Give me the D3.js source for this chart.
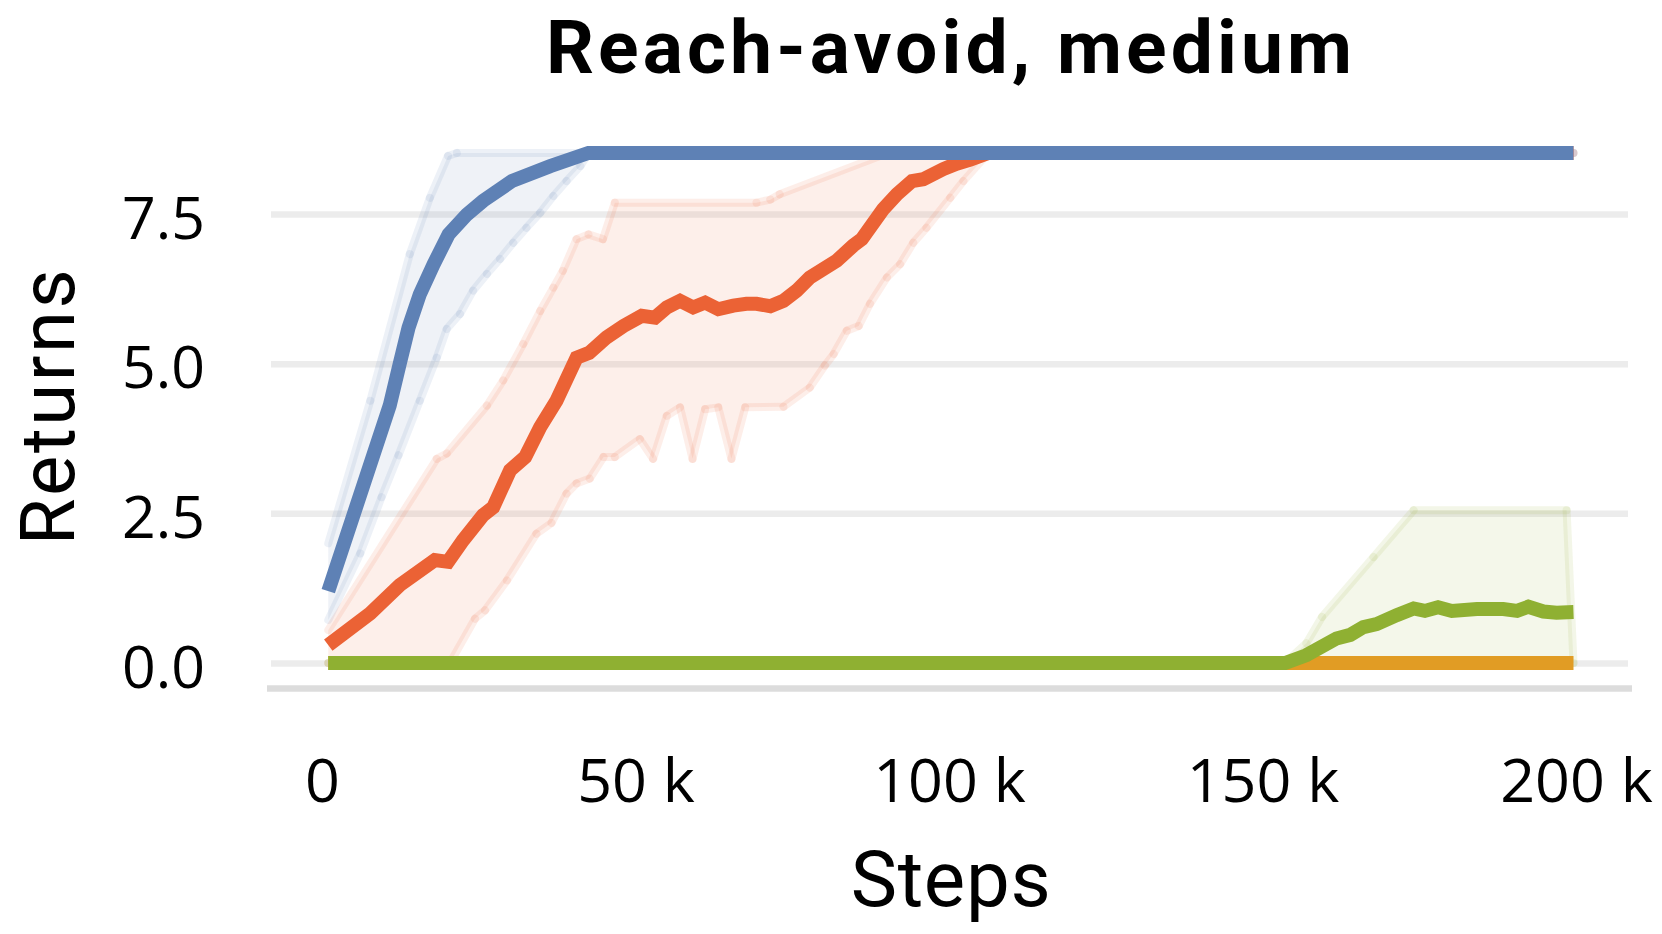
<!DOCTYPE html>
<html>
<head>
<meta charset="utf-8">
<script src="https://cdn.jsdelivr.net/npm/d3@7"></script>
<style>
  body { margin: 0; background: #fff; }
  text { font-family: "Open Sans", "Noto Sans", sans-serif; fill: #000; }
  .title { font-family: Roboto, "Open Sans", sans-serif; }
</style>
</head>
<body>
<svg id="chart" width="1662" height="934"></svg>
<script>
// values: [step, return]
var blueMean = [[1000,1.2],[10800,4.3],[12400,5.0],[13800,5.6],[15600,6.16],[17800,6.66],[20200,7.16],[23100,7.49],[25700,7.72],[30300,8.05],[36400,8.3],[42500,8.52],[199600,8.52]];
var blueUpper = [[1000,2.0],[7700,4.38],[14000,6.83],[17200,7.77],[20100,8.47],[21500,8.52],[199600,8.52]];
var blueLower = [[1000,0.72],[6100,1.83],[9500,2.77],[12200,3.47],[15600,4.38],[18300,5.1],[19900,5.58],[22000,5.83],[24100,6.22],[26300,6.5],[28400,6.75],[30500,7.02],[32600,7.27],[34800,7.52],[36900,7.8],[39000,8.05],[41200,8.3],[42500,8.52],[199600,8.52]];

var redMean = [[1000,0.3],[7700,0.83],[12400,1.3],[18000,1.72],[20100,1.69],[22500,2.05],[25700,2.47],[27300,2.6],[30000,3.22],[32400,3.44],[34800,3.94],[37400,4.38],[40600,5.1],[42600,5.18],[45400,5.44],[48100,5.63],[51000,5.8],[53100,5.77],[55000,5.94],[57100,6.05],[59200,5.94],[61100,6.02],[63200,5.91],[65600,5.97],[67700,6.0],[69300,6.0],[71500,5.96],[73600,6.05],[75700,6.22],[77800,6.44],[82100,6.72],[84700,6.97],[86100,7.08],[89500,7.58],[91700,7.83],[94100,8.05],[95900,8.08],[99100,8.25],[101200,8.34],[103400,8.41],[106300,8.52],[199600,8.52]];
var redUpper = [[1000,0.55],[18300,3.41],[19900,3.5],[26300,4.3],[28900,4.72],[32100,5.33],[34800,5.88],[36900,6.27],[38400,6.55],[40600,7.08],[42500,7.16],[44800,7.08],[46700,7.69],[69300,7.69],[71500,7.74],[73000,7.83],[89500,8.49],[91000,8.52],[199600,8.52]];
var redLower = [[1000,0],[20400,0],[24400,0.74],[26000,0.88],[29500,1.38],[34200,2.16],[36600,2.34],[39000,2.83],[40600,3.0],[42700,3.08],[44900,3.44],[46700,3.44],[50700,3.74],[52800,3.41],[55000,4.13],[57100,4.27],[59100,3.41],[61100,4.24],[63200,4.27],[65300,3.41],[67500,4.27],[73600,4.28],[77800,4.6],[80200,4.97],[81600,5.16],[83700,5.55],[85600,5.63],[87400,6.0],[90100,6.44],[92200,6.66],[94300,7.02],[96400,7.27],[100200,7.77],[102300,8.05],[106300,8.52],[199600,8.52]];

var yellowMean = [[1000,0],[199600,0]];

var greenMean = [[1000,0],[153600,0],[157000,0.13],[161800,0.41],[164000,0.47],[166100,0.6],[168200,0.65],[171400,0.8],[174100,0.91],[175900,0.87],[178000,0.93],[180200,0.87],[184200,0.9],[188400,0.9],[190600,0.87],[192400,0.94],[194800,0.86],[196900,0.84],[199600,0.85]];
var greenUpper = [[1000,0],[153600,0],[157000,0.33],[159500,0.77],[167700,1.77],[174100,2.55],[198500,2.55],[199600,0]];
var greenLower = [[1000,0],[199600,0]];

var yTicks = [0, 2.5, 5, 7.5];
var xTicks = [0, 50000, 100000, 150000, 200000];
var xTickLabels = ["0", "50 k", "100 k", "150 k", "200 k"];

var colors = {blue: "#5E81B5", yellow: "#E19C24", green: "#8FB032", red: "#EB6235"};

var svg = d3.select("#chart");

var x = d3.scaleLinear().domain([0, 200000]).range([322, 1576]),
    y = d3.scaleLinear().domain([0, 7.5]).range([663, 214]);

var line = d3.line()
    .x(function(d) { return x(d[0]); })
    .y(function(d) { return y(d[1]); });

// horizontal grid + y labels
var gy = svg.append("g")
    .attr("transform", "translate(271,0)")
    .call(d3.axisLeft(y)
      .tickValues(yTicks)
      .tickSize(-1357)
      .tickPadding(66)
      .tickFormat(d3.format(".1f")));
gy.select(".domain").remove();
gy.selectAll(".tick line").attr("stroke", "#ececec").attr("stroke-width", 6.5);
gy.selectAll(".tick text")
    .attr("dy", "24px")
    .style("font-size", "59px")
    .style("font-family", "'Open Sans'")
    .attr("fill", "#000");

// bottom axis rule
svg.append("line")
    .attr("x1", 267).attr("x2", 1632)
    .attr("y1", 688.5).attr("y2", 688.5)
    .attr("stroke", "#dcdcdc").attr("stroke-width", 6.5);

var gx = svg.append("g")
    .attr("transform", "translate(0,802)")
    .call(d3.axisBottom(x)
      .tickValues(xTicks)
      .tickSize(0)
      .tickFormat(function(d, i) { return xTickLabels[i]; }));
gx.select(".domain").remove();
gx.selectAll(".tick text")
    .attr("y", 0).attr("dy", 0)
    .style("font-size", "61px")
    .style("font-family", "'Open Sans'")
    .attr("fill", "#000");

// confidence bands
var bands = [
  {upper: redUpper, lower: redLower, colour: colors.red},
  {upper: blueUpper, lower: blueLower, colour: colors.blue},
  {upper: greenUpper, lower: greenLower, colour: colors.green}
];

bands.forEach(function(b) {
  var poly = b.upper.concat(b.lower.slice().reverse());
  svg.append("path")
      .attr("d", line(poly) + "Z")
      .attr("fill", b.colour)
      .attr("fill-opacity", 0.1)
      .attr("stroke", "none");
  [b.upper, b.lower].forEach(function(edge) {
    svg.append("g").selectAll("path")
        .data(d3.pairs(edge))
      .enter().append("path")
        .attr("d", function(p) { return line(p); })
        .attr("fill", "none")
        .attr("stroke", b.colour)
        .attr("stroke-opacity", 0.11)
        .attr("stroke-width", 8)
        .attr("stroke-linecap", "round");
  });
});

// mean lines
var series = [
  {values: redMean, colour: colors.red},
  {values: yellowMean, colour: colors.yellow},
  {values: greenMean, colour: colors.green},
  {values: blueMean, colour: colors.blue}
];

svg.selectAll(".series")
    .data(series)
  .enter().append("path")
    .attr("class", "series")
    .attr("d", function(d) { return line(d.values); })
    .attr("fill", "none")
    .attr("stroke", function(d) { return d.colour; })
    .attr("stroke-width", 14)
    .attr("stroke-linejoin", "miter")
    .attr("stroke-linecap", "butt");

// keep the font size, widen with letter spacing to the reference length
function spread(t, size, target) {
  t.style("font-size", size + "px");
  var w = t.node().getComputedTextLength(),
      n = t.text().length;
  if (w < target) t.style("letter-spacing", ((target - w) / (n - 1)) + "px");
  return t;
}

spread(svg.append("text")
    .attr("class", "title")
    .attr("x", 951).attr("y", 73)
    .attr("text-anchor", "middle")
    .style("font-weight", "bold")
    .text("Reach-avoid, medium"), 75, 806);

spread(svg.append("text")
    .attr("class", "title")
    .attr("x", 951).attr("y", 906)
    .attr("text-anchor", "middle")
    .text("Steps"), 78, 200);

spread(svg.append("text")
    .attr("class", "title")
    .attr("transform", "translate(74,406) rotate(-90)")
    .attr("text-anchor", "middle")
    .text("Returns"), 76, 276);
</script>
</body>
</html>
